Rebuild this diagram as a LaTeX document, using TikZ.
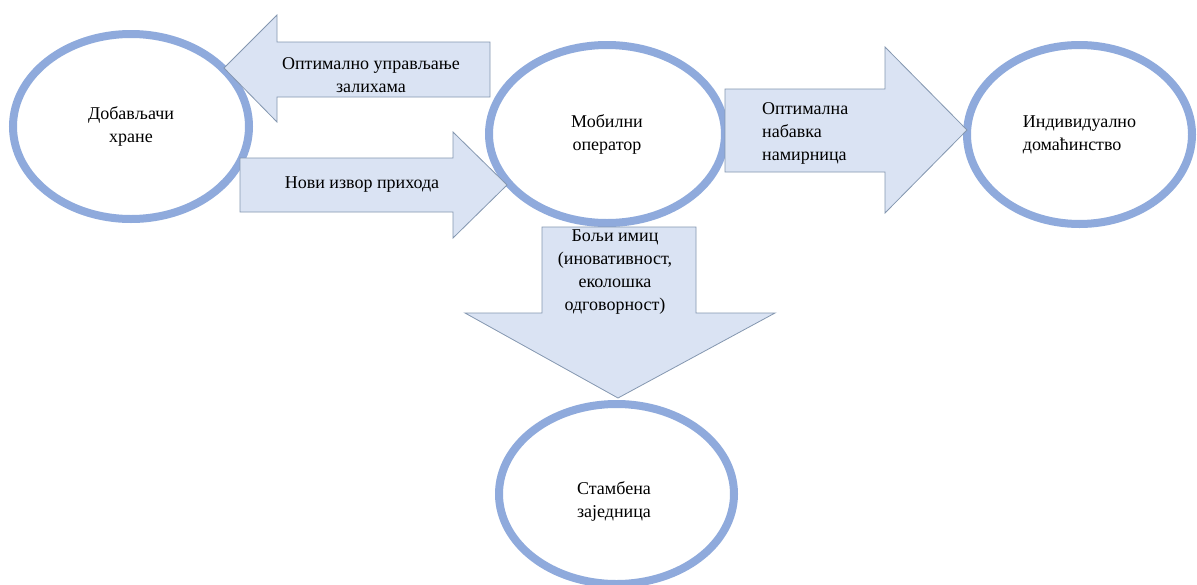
\documentclass[tikz,border=0pt]{standalone}
\usepackage{fontspec}
\setmainfont{Liberation Serif}
\usetikzlibrary{shapes.geometric}
\definecolor{ringblue}{HTML}{8FAADC}
\definecolor{arrowfill}{HTML}{DAE3F3}
\definecolor{arrowline}{HTML}{8497B0}
\begin{document}
\begin{tikzpicture}[x=1pt,y=-1pt,
  every node/.style={font=\fontsize{18}{23}\selectfont, inner sep=0pt},
  party/.style={ellipse, draw=ringblue, line width=8pt, fill=white, align=center},
  blockarrow/.style={draw=arrowline, line width=0.8pt, fill=arrowfill, line join=miter},
  arrowtext/.style={align=center}]
\useasboundingbox (0,0) rectangle (1197,584);
\fill[white] (0,0) rectangle (1197,584);

% participants
\node[party, minimum width=236pt, minimum height=185pt] (supplier) at (131,126.5) {Добављачи\\хране};
\node[party, minimum width=236pt, minimum height=178pt] (operator) at (607,134) {Мобилни\\оператор};
\node[party, minimum width=225pt, minimum height=179pt, align=left] (household) at (1079.5,134.5) {Индивидуално\\домаћинство};
\node[party, minimum width=235pt, minimum height=180pt] (community) at (616.5,494) {};
\node[align=center] (communitytext) at (614,501) {Стамбена\\заједница};

% block arrows between participants
\draw[blockarrow] (224,68) -- (277,15) -- (277,42) -- (490,42) -- (490,97) -- (277,97) -- (277,122) -- cycle;
\draw[blockarrow] (240,158) -- (453,158) -- (453,132) -- (507,185) -- (453,238) -- (453,212) -- (240,212) -- cycle;
\draw[blockarrow] (725,89) -- (885,89) -- (885,47) -- (967,130) -- (885,213) -- (885,172) -- (725,172) -- cycle;
\draw[blockarrow] (542,227) -- (696,227) -- (696,313) -- (775,313) -- (618,398) -- (465,313) -- (542,313) -- cycle;

% arrow labels
\node[arrowtext] (stock) at (371,75) {Оптимално управљање\\залихама};
\node[arrowtext] (income) at (362,185) {Нови извор прихода};
\node[align=left, anchor=west] (purchase) at (762,133) {Оптимална\\набавка\\намирница};
\node[arrowtext] (image) at (615,272) {Бољи имиц\\(иновативност,\\еколошка\\одговорност)};
\end{tikzpicture}
\end{document}
